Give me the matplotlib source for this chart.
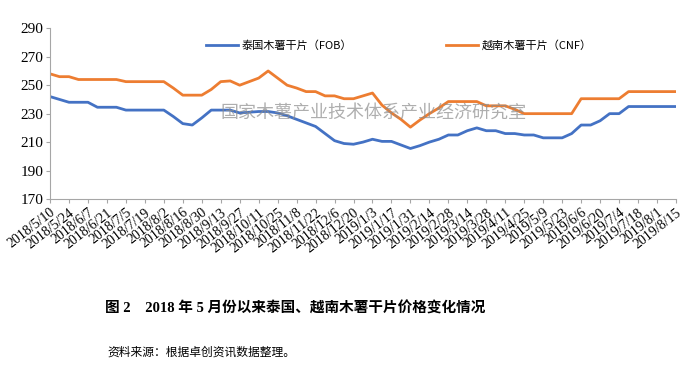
import matplotlib.pyplot as plt

# weekly prices, 2018/5/10 .. 2019/8/15
thai_fob = [242, 240, 238, 238, 238, 234.5, 234.5, 234.5, 232.5, 232.5,
            232.5, 232.5, 232.5, 228, 223, 222, 227, 232.5, 232.5, 232.5,
            230.5, 231, 231.5, 231.5, 230.5, 228.5, 226, 223.5, 221, 216,
            211, 209, 208.5, 210, 212, 210.5, 210.5, 208, 205.5, 207.5,
            210, 212, 215, 215, 218, 220, 218, 218, 216, 216,
            215, 215, 213, 213, 213, 216, 222, 222, 225, 230,
            230, 235, 235, 235, 235, 235, 235]
viet_cnf = [258, 256, 256, 254, 254, 254, 254, 254, 252.5, 252.5,
            252.5, 252.5, 252.5, 248, 243, 243, 243, 247, 252.5, 253,
            250, 252.5, 255, 260, 255, 250, 248, 245.5, 245.5, 242.5,
            242.5, 240.5, 240.5, 242.5, 244.5, 236, 230.5, 226, 220.5, 225.5,
            230, 234, 238.5, 238.5, 238.5, 238.5, 235.5, 235.5, 235.5, 233,
            230, 230, 230, 230, 230, 230, 240.5, 240.5, 240.5, 240.5,
            240.5, 245.5, 245.5, 245.5, 245.5, 245.5, 245.5]

tick_labels = ["2018/5/10", "2018/5/24", "2018/6/7", "2018/6/21", "2018/7/5",
               "2018/7/19", "2018/8/2", "2018/8/16", "2018/8/30", "2018/9/13",
               "2018/9/27", "2018/10/11", "2018/10/25", "2018/11/8", "2018/11/22",
               "2018/12/6", "2018/12/20", "2019/1/3", "2019/1/17", "2019/1/31",
               "2019/2/14", "2019/2/28", "2019/3/14", "2019/3/28", "2019/4/11",
               "2019/4/25", "2019/5/9", "2019/5/23", "2019/6/6", "2019/6/20",
               "2019/7/4", "2019/7/18", "2019/8/1", "2019/8/15"]

serif = ["Liberation Serif", "Noto Sans CJK SC"]
cjk = ["Noto Sans CJK SC", "DejaVu Sans"]

fig = plt.figure(figsize=(6.93, 3.70), dpi=100)
ax = fig.add_axes([50/693, 1-199/370, 626/693, (199-28.3)/370])

weeks = range(len(thai_fob))
ax.plot(weeks, thai_fob, color="#4472C4", lw=2, label="泰国木薯干片（FOB）")
ax.plot(weeks, viet_cnf, color="#ED7D31", lw=2, label="越南木薯干片（CNF）")

ax.set_xlim(0, len(thai_fob) - 1)
ax.set_ylim(170, 290)
ax.set_yticks(range(170, 291, 20))
ax.set_xticks(range(0, len(thai_fob), 2))
ax.set_xticklabels(tick_labels, rotation=38, ha="right", va="top",
                   rotation_mode="anchor", family=serif, fontsize=10)
for t in ax.get_yticklabels():
    t.set_family(serif)
    t.set_fontsize(11)

for s in ["top", "right"]:
    ax.spines[s].set_visible(False)
for s in ["left", "bottom"]:
    ax.spines[s].set_color("#A6A6A6")
ax.tick_params(axis="both", color="#A6A6A6", length=3, pad=2)

ax.legend(loc="center", bbox_to_anchor=(0.557, 0.9), ncol=2, frameon=False,
          prop={"family": cjk, "size": 8}, handlelength=2.9,
          columnspacing=8.5, handletextpad=0.3)

# watermark
fig.text(220/693, 1-113/370, "国家木薯产业技术体系产业经济研究室",
         family=cjk, fontsize=13, color="#8C8C8C", alpha=0.7,
         ha="left", va="center", zorder=5)

fig.text(105/693, 1-309/370, "图 2　2018 年 5 月份以来泰国、越南木薯干片价格变化情况",
         family=serif, fontsize=10.5, weight="bold", ha="left", va="center")
fig.text(107/693, 1-352/370, "资料来源：根据卓创资讯数据整理。",
         family=cjk, fontsize=8.5, ha="left", va="center")

fig.savefig("out.png", dpi=100)
